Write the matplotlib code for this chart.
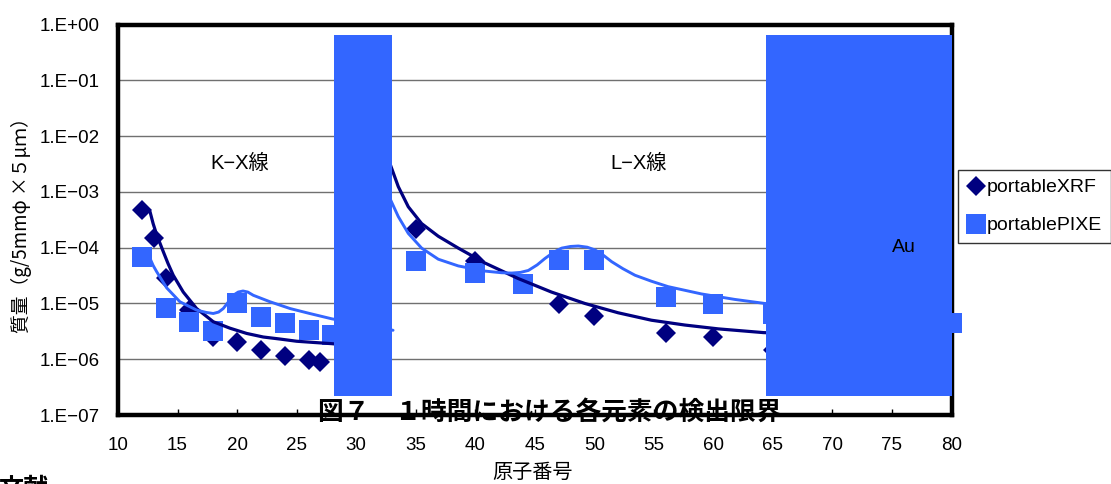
import matplotlib
matplotlib.use('Agg')
import matplotlib.pyplot as plt
from matplotlib.patches import Rectangle
from matplotlib.ticker import NullLocator

plt.rcParams['font.family'] = ['Liberation Sans', 'Noto Sans CJK JP', 'DejaVu Sans']

# ---- data ----
xrf_z = [12, 13, 14, 16, 18, 20, 22, 24, 26, 27, 35, 40, 47, 50, 56, 60, 65]
xrf_mass = [4.8e-4, 1.5e-4, 2.8e-5, 7.6e-6, 2.5e-6, 2.0e-6, 1.45e-6, 1.15e-6, 9.6e-7, 9.0e-7,
            2.2e-4, 5.8e-5, 9.6e-6, 6.0e-6, 3.0e-6, 2.5e-6, 1.45e-6]

pixe_z = [12, 14, 16, 18, 20, 22, 24, 26, 28, 35, 40, 44, 47, 50, 56, 60, 65, 80]
pixe_mass = [6.9e-5, 8.4e-6, 4.7e-6, 3.2e-6, 1.0e-5, 5.8e-6, 4.4e-6, 3.3e-6, 2.7e-6,
             5.8e-5, 3.5e-5, 2.2e-5, 6.0e-5, 6.0e-5, 1.29e-5, 9.8e-6, 6.5e-6, 4.5e-6]

# theoretical curves (K-X ray region)
xrf_k_curve_z = [12.69, 12.95, 13.25, 13.8, 14.2, 14.64, 15.48, 16.6, 18.0, 19.4, 20.8, 22.2,
                 23.6, 25.0, 26.4, 27.95, 28.5]
xrf_k_curve = [4.4e-4, 2.7e-4, 1.7e-4, 8.5e-5, 5.2e-5, 3.2e-5, 1.6e-5, 8.1e-6, 4.7e-6, 3.6e-6,
               2.9e-6, 2.5e-6, 2.3e-6, 2.1e-6, 2.0e-6, 1.9e-6, 1.85e-6]
pixe_k_curve_z = [12.69, 12.95, 13.25, 14.09, 15.2, 16.6, 17.4, 18.0, 18.45, 18.84, 19.25, 19.68,
                  20.1, 20.5, 20.9, 21.36, 22.77, 24.45, 26.1, 27.95, 30.5, 33.1]
pixe_k_curve = [6.4e-5, 4.8e-5, 3.7e-5, 1.9e-5, 1.07e-5, 7.6e-6, 6.9e-6, 6.6e-6, 7.0e-6, 8.1e-6,
                1.05e-5, 1.4e-5, 1.6e-5, 1.67e-5, 1.6e-5, 1.4e-5, 1.07e-5, 8.1e-6, 6.6e-6, 5.3e-6,
                4.2e-6, 3.3e-6]

# theoretical curves (L-X ray region)
xrf_l_curve_z = [31.5, 32.84, 33.54, 34.38, 35.5, 36.9, 38.58, 40.82, 43.6, 46.4, 49.2, 52.0,
                 54.8, 57.6, 60.4, 64.2, 66.0]
xrf_l_curve = [1.5e-2, 3.2e-3, 1.24e-3, 5.4e-4, 2.7e-4, 1.6e-4, 9.8e-5, 5.3e-5, 2.8e-5, 1.6e-5,
               1.0e-5, 6.8e-6, 5.0e-6, 4.1e-6, 3.5e-6, 3.0e-6, 2.9e-6]
pixe_l_curve_z = [31.5, 32.84, 33.54, 34.38, 35.5, 36.9, 38.58, 40.82, 42.2, 43.06, 43.8, 44.46,
                  45.2, 45.86, 46.6, 47.26, 48.0, 48.66, 49.4, 50.06, 50.8, 51.46, 52.4, 53.42,
                  54.8, 56.2, 59.0, 61.8, 64.3, 66.0]
pixe_l_curve = [2.5e-3, 7.6e-4, 3.6e-4, 1.8e-4, 9.8e-5, 6.2e-5, 4.7e-5, 3.8e-5, 3.55e-5, 3.5e-5,
                3.6e-5, 3.9e-5, 4.9e-5, 6.4e-5, 8.3e-5, 9.8e-5, 1.05e-4, 1.07e-4, 1.02e-4, 9.1e-5,
                7.2e-5, 5.6e-5, 4.2e-5, 3.2e-5, 2.5e-5, 2.0e-5, 1.48e-5, 1.18e-5, 1.0e-5, 9.5e-6]

# masking blocks (x range, y range)
block1_x = [28.15, 33.0]
block2_x = [64.45, 80.0]
block_y = [2.2e-7, 0.66]

y_ticks = [1e-7, 1e-6, 1e-5, 1e-4, 1e-3, 1e-2, 1e-1, 1e0]
y_tick_labels = ['1.E-07', '1.E-06', '1.E-05', '1.E-04', '1.E-03', '1.E-02', '1.E-01', '1.E+00']
x_ticks = [10, 15, 20, 25, 30, 35, 40, 45, 50, 55, 60, 65, 70, 75, 80]

series_names = ['portableXRF', 'portablePIXE']
x_label = '原子番号'
y_label = '質量（g/5mmφ ×５μｍ）'
caption = '図７　１時間における各元素の検出限界'

DARK = '#000080'
LIGHT = '#3366FF'

fig = plt.figure(figsize=(11.11, 4.84), dpi=100)
W, H = 1111, 484
ax = fig.add_axes([118 / W, (H - 415) / H, (951.5 - 118) / W, (415 - 24.5) / H])

ax.set_yscale('log')
ax.set_xlim(10, 80)
ax.set_ylim(1e-7, 1e0)

# markers
ax.plot(xrf_z, xrf_mass, linestyle='none', marker='D', markersize=10, color=DARK,
        markeredgewidth=0, zorder=5, clip_on=False, label=series_names[0])
ax.plot(pixe_z, pixe_mass, linestyle='none', marker='s', markersize=14.5, color=LIGHT,
        markeredgewidth=0, zorder=5.1, clip_on=False, label=series_names[1])

# curves
for cz, cv, col, lw, zo in ((xrf_k_curve_z, xrf_k_curve, DARK, 2.3, 6),
                            (pixe_k_curve_z, pixe_k_curve, LIGHT, 2.1, 6.1),
                            (xrf_l_curve_z, xrf_l_curve, DARK, 2.3, 6),
                            (pixe_l_curve_z, pixe_l_curve, LIGHT, 2.1, 6.1)):
    ax.plot(cz, cv, color=col, lw=lw, zorder=zo, solid_capstyle='round',
            solid_joinstyle='round')

# blocks
for bx in (block1_x, block2_x):
    ax.add_patch(Rectangle((bx[0], block_y[0]), bx[1] - bx[0], block_y[1] - block_y[0],
                           facecolor=LIGHT, edgecolor='none', zorder=10, clip_on=False))

# axes styling
for s in ax.spines.values():
    s.set_linewidth(3.2)
    s.set_color('black')
    s.set_zorder(4)

ax.set_yticks(y_ticks)
ax.set_yticklabels([t.replace('-', '\u2212') for t in y_tick_labels])
ax.yaxis.set_minor_locator(NullLocator())
ax.set_xticks(x_ticks)
ax.set_xticklabels([str(v) for v in x_ticks])
ax.xaxis.set_minor_locator(NullLocator())
ax.tick_params(axis='y', length=0, pad=13, labelsize=13.5)
ax.tick_params(axis='x', direction='in', length=4.5, width=1, pad=15.5, labelsize=13.5)
ax.yaxis.grid(True, color='#707070', lw=1.0, zorder=1)
ax.xaxis.grid(False)
ax.set_axisbelow(True)

# annotations
ax.text(20.2, 3.2e-3, 'K\u2212X線', ha='center', va='center', fontsize=14.5, zorder=12)
ax.text(53.7, 3.2e-3, 'L\u2212X線', ha='center', va='center', fontsize=14.5, zorder=12)
ax.text(76.0, 1.0e-4, 'Au', ha='center', va='center', fontsize=14, zorder=12)

# legend
leg = fig.legend(loc='upper left', bbox_to_anchor=(958 / W, 1 - 170 / H), borderaxespad=0,
                 fontsize=14, frameon=True, fancybox=False, handlelength=0.9,
                 handletextpad=0.15, labelspacing=1.05, borderpad=0.45)
leg.get_frame().set_edgecolor('black')
leg.get_frame().set_linewidth(1.0)

# labels
fig.text(21 / W, 1 - 221 / H, y_label, rotation=90, ha='center', va='center', fontsize=13.5,
         family=['Noto Sans CJK JP'])
fig.text(533 / W, 1 - 472 / H, x_label, ha='center', va='center', fontsize=14.5,
         family=['Noto Sans CJK JP'])
fig.text(550 / W, 1 - 412 / H, caption, ha='center', va='center', fontsize=18.5,
         fontweight='bold', family=['Noto Sans CJK JP'], zorder=20)
fig.text(-2 / W, 1 - 476 / H, '文献', ha='left', va='top', fontsize=18,
         fontweight='bold', family=['Noto Sans CJK JP'])

fig.savefig('out.png', dpi=100)
